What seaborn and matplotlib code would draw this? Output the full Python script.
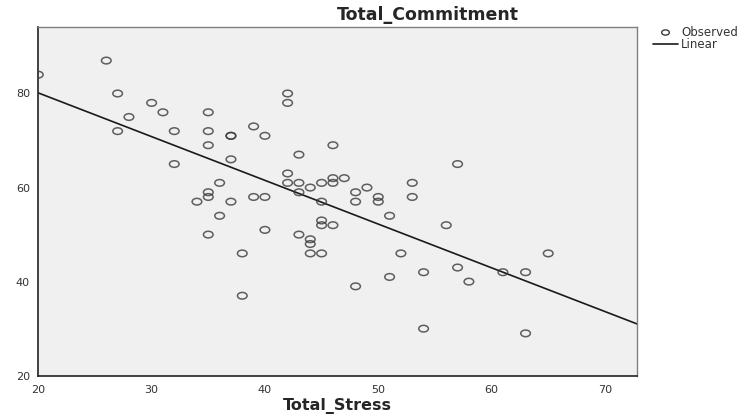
import numpy as np
import pandas as pd
import matplotlib
matplotlib.use("Agg")
import matplotlib.pyplot as plt
from matplotlib.path import Path
from matplotlib.transforms import Affine2D
from matplotlib.lines import Line2D
import seaborn as sns

total_stress = [20, 26, 27, 27, 28, 30, 31, 32, 32,
                34,
                35, 35, 35, 35, 35, 35,
                36, 36,
                37, 37, 37, 37,
                38, 38,
                39, 39,
                40, 40, 40,
                42, 42, 42, 42,
                43, 43, 43, 43,
                44, 44, 44, 44,
                45, 45, 45, 45, 45,
                46, 46, 46, 46,
                47,
                48, 48, 48,
                49,
                50, 50,
                51, 51,
                52,
                53, 53,
                54, 54,
                56,
                57, 57,
                58,
                61,
                63, 63,
                65]
total_commitment = [84, 87, 80, 72, 75, 78, 76, 72, 65,
                    57,
                    76, 72, 69, 59, 58, 50,
                    61, 54,
                    71, 71, 66, 57,
                    46, 37,
                    73, 58,
                    71, 58, 51,
                    80, 78, 63, 61,
                    67, 61, 59, 50,
                    60, 49, 48, 46,
                    61, 57, 53, 52, 46,
                    69, 62, 61, 52,
                    62,
                    59, 57, 39,
                    60,
                    58, 57,
                    54, 41,
                    46,
                    61, 58,
                    42, 30,
                    52,
                    65, 43,
                    40,
                    42,
                    42, 29,
                    46]
x_ticks = [20, 30, 40, 50, 60, 70]
y_ticks = [20, 40, 60, 80]

df = pd.DataFrame({"Total_Stress": total_stress, "Total_Commitment": total_commitment})

sns.set_style("white")
plt.rcParams["font.family"] = ["DejaVu Sans"]

W, H = 747, 415
fig = plt.figure(figsize=(W / 100, H / 100), dpi=100)
ax = fig.add_axes([38.3 / W, 1 - 375.7 / H, (637.3 - 38.3) / W, (375.7 - 26.7) / H])
ax.set_facecolor("#f0f0f0")
ax.set_xlim(20, 72.86)
ax.set_ylim(20, 94.2)

ell = Path.unit_circle().transformed(Affine2D().scale(1.45, 1.0))

sns.regplot(data=df, x="Total_Stress", y="Total_Commitment", ax=ax, ci=None, truncate=False,
            marker=ell,
            scatter_kws=dict(s=48, facecolors="none", edgecolors="#3a3a3a", linewidths=1.1, zorder=3),
            line_kws=dict(color="#1a1a1a", lw=1.2, zorder=2))

ax.set_xticks(x_ticks)
ax.set_yticks(y_ticks)
ax.tick_params(axis="both", which="both", direction="out", length=5, width=1, color="#222222",
               labelsize=8, labelcolor="#333333", pad=1)
ax.tick_params(axis="x", pad=2)
for side in ["left", "bottom"]:
    ax.spines[side].set_color("#222222")
    ax.spines[side].set_linewidth(1.2)
for side in ["top", "right"]:
    ax.spines[side].set_visible(True)
    ax.spines[side].set_color("#808080")
    ax.spines[side].set_linewidth(1.0)

ax.set_xlabel("Total_Stress", fontsize=11.5, fontweight="bold", labelpad=2)
ax.set_ylabel("")
fig.text(427.5 / W, 1 - 15 / H, "Total_Commitment", fontsize=12.5, fontweight="bold",
         ha="center", va="center")

handles = [Line2D([], [], marker=ell, linestyle="none", markerfacecolor="none",
                  markeredgecolor="#3a3a3a", markersize=5.5, markeredgewidth=1.0),
           Line2D([], [], color="#1a1a1a", lw=1.2)]
leg = fig.legend(handles, ["Observed", "Linear"], loc="upper left",
                 bbox_to_anchor=(653 / W, 1 - 26 / H), frameon=False, fontsize=8.5,
                 handlelength=2.1, handletextpad=0.3, labelspacing=-0.05, borderaxespad=0,
                 borderpad=0)
for t in leg.get_texts():
    t.set_color("#333333")

fig.savefig("out.png", dpi=100)
